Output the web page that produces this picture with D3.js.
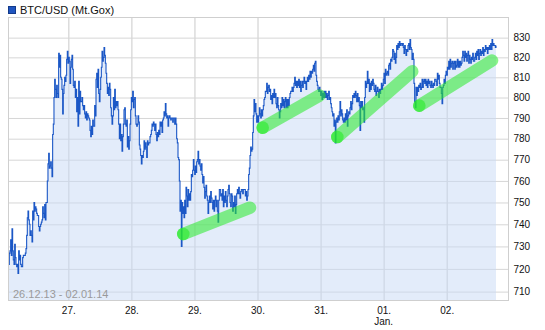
<!DOCTYPE html>
<html>
<head>
<meta charset="utf-8">
<script src="https://cdn.jsdelivr.net/npm/d3@7"></script>
<style>
  html, body { margin: 0; padding: 0; background: #fff; }
  svg text { font-family: "Liberation Sans", Arial, sans-serif; }
</style>
</head>
<body>
<svg id="chart" width="545" height="330"></svg>
<script>
// ---------------- data ----------------
const seriesName = "BTC/USD (Mt.Gox)";
const periodLabel = "26.12.13 - 02.01.14";
const stepMinutes = 15.22;
const segmentStarts = ["2013-12-26T01:18", "2013-12-27T07:30", "2013-12-28T14:42",
                       "2013-12-29T21:54", "2013-12-31T05:06", "2014-01-01T12:19"];
const prices1 = [722,727,728,733,726,738,728,724,722,731,725,722,721,722,718,728,724,726,722,721,
  721,725,726,726,726,727,729,735,743,746,742,740,735,737,735,732,746,742,750,746,
  748,747,745,744,744,739,737,739,740,741,742,748,745,743,749,742,750,750,760,768,
  773,766,767,769,766,762,782,787,800,809,804,800,806,802,800,822,815,821,810,809,
  804,792,802,806,810,808,811,819,823,817,820,818,807,815,819,821,814,806,805,808,
  800,804,793,800,786,808,792,803,798,798,800,796,794,796,792,790,793,789,792];
const prices2 = [791,790,789,784,781,786,782,789,786,786,796,791,809,812,805,814,802,798,804,810,
  815,823,818,820,825,821,817,812,807,802,805,801,807,804,795,791,787,791,800,794,
  804,795,798,796,798,794,787,780,787,779,782,774,781,787,794,795,787,786,789,776,
  781,775,779,787,794,800,798,803,795,799,800,791,787,786,787,791,788,777,775,772,
  768,772,771,774,779,775,778,776,771,779,777,778,778,781,782,784,787,786,788,787,
  784,787,782,779,783,781,784,782,788,786,788,783,789,790,793,791,797,792,790,791,
  786,790,791];
const prices3 = [790,789,790,790,788,790,790,787,790,787,780,778,771,770,760,746,751,730,750,745,
  748,743,751,745,757,753,748,756,751,754,751,755,763,762,765,770,765,763,767,764,
  769,770,774,768,770,767,765,768,763,759,762,757,752,755,758,753,751,745,750,753,
  750,755,752,750,747,751,746,751,753,748,751,746,741,751,756,756,753,754,751,756,
  748,753,750,755,751,748,753,756,758,754,750,748,754,753,746,750,748,753,745,749,
  754,756,754,757,754,752,755,756,756,754,756,756,756,753,755,751,753,756,763,766,
  772,776,774];
const prices4 = [775,783,791,799,793,797,792,788,791,788,791,795,792,790,794,791,794,796,799,800,
  803,803,807,802,805,806,803,804,799,801,797,802,800,804,800,802,797,795,800,796,
  794,790,793,797,795,800,796,799,795,798,800,795,799,795,799,796,800,802,803,803,
  805,803,805,807,810,806,808,805,808,806,809,805,808,803,806,808,805,808,810,807,
  808,804,808,810,808,811,809,813,810,813,812,814,816,813,817,818,811,808,806,804,
  803,805,803,801,803,799,802,800,803,800,803,800,802,799,801,803,799,800,797,795,
  793,791,792];
const prices5 = [786,789,778,788,790,788,791,789,793,798,791,794,792,789,788,790,788,792,789,794,
  786,791,793,792,795,798,794,797,801,800,802,800,803,801,798,802,798,800,796,784,
  798,795,798,794,795,788,800,808,805,807,813,807,809,803,807,804,808,806,809,807,
  804,803,806,801,803,805,803,800,804,802,804,807,804,806,809,812,807,814,811,812,
  813,811,816,817,814,819,818,820,824,823,819,822,817,820,826,824,827,825,828,826,
  827,827,826,827,825,822,826,824,821,824,823,826,827,824,829,825,824,819,822,819,
  807,798,795];
const prices6 = [805,801,805,803,806,805,807,804,805,809,805,808,809,807,809,806,808,805,809,807,
  808,806,805,808,806,805,807,806,809,809,808,806,812,809,811,807,805,805,802,797,
  805,806,809,807,811,813,811,815,814,818,814,819,815,817,818,814,817,818,814,818,
  815,816,819,815,818,815,818,816,817,820,823,821,818,823,820,822,818,821,823,817,
  821,819,817,820,819,822,818,818,820,822,819,823,821,824,819,822,824,821,823,822,
  825,821,824,823,826,824,825,822,825,824,826,824,827,824,829,826,827,826,826,825,826];

const yTicks = [710,720,730,740,750,760,770,780,790,800,810,820,830];
const xTickDates = ["2013-12-27","2013-12-28","2013-12-29","2013-12-30","2013-12-31","2014-01-01","2014-01-02"];
const monthLabel = "Jan.";

// highlighted trend bands
const bandStartTimes = ["2013-12-28T19:45","2013-12-30T01:58","2013-12-31T06:22","2014-01-01T13:34"];
const bandStartValues = [735.6, 785.3, 780.8, 796.0];
const bandEndTimes = ["2013-12-29T21:09","2013-12-30T23:35","2014-01-01T10:54","2014-01-02T17:14"];
const bandEndValues = [747.6, 801.0, 813.0, 818.4];

// ---------------- build ----------------
const parseT = d3.timeParse("%Y-%m-%dT%H:%M");
const parseD = d3.timeParse("%Y-%m-%d");
const segments = [prices1, prices2, prices3, prices4, prices5, prices6];
const data = [];
segments.forEach((vals, s) => {
  const t0 = parseT(segmentStarts[s]);
  vals.forEach((v, i) => data.push({ date: new Date(+t0 + i * stepMinutes * 60000), value: v }));
});

const frame = { left: 8, right: 509, top: 17, bottom: 301 };
const x = d3.scaleTime()
  .domain([parseD("2013-12-26"), parseD("2014-01-03")])
  .range([5.23, 509.79]);
const y = d3.scaleLog()
  .domain([706, 840.6])
  .range([300.8, 17]);

const svg = d3.select("#chart");
const gridColor = "#d6d6d6";

// clip
svg.append("clipPath").attr("id", "plotclip")
  .append("rect").attr("x", frame.left).attr("y", frame.top)
  .attr("width", frame.right - frame.left).attr("height", frame.bottom - frame.top);

// horizontal grid + right labels via axis
const yAxis = d3.axisRight(y).tickValues(yTicks).tickFormat(d3.format("d"))
  .tickSize(-(frame.right - frame.left)).tickPadding(5);
const gy = svg.append("g").attr("transform", `translate(${frame.right},0)`).call(yAxis);
gy.select(".domain").remove();
gy.selectAll(".tick line").attr("stroke", gridColor).attr("stroke-width", 1);
gy.selectAll(".tick text").attr("font-size", 10).attr("fill", "#111").attr("x", 4.5)
  .style("font-family", "'Liberation Sans', Arial, sans-serif");

// vertical grid + bottom labels via axis
const xDates = xTickDates.map(parseD);
const xAxis = d3.axisBottom(x).tickValues(xDates).tickFormat(d3.timeFormat("%d."))
  .tickSize(-(frame.bottom - frame.top)).tickPadding(4);
const gx = svg.append("g").attr("transform", `translate(0,${frame.bottom})`).call(xAxis);
gx.select(".domain").remove();
gx.selectAll(".tick line").attr("stroke", gridColor).attr("stroke-width", 1.3);
gx.selectAll(".tick text").attr("font-size", 10).attr("fill", "#111").attr("dy", "0.9em")
  .style("font-family", "'Liberation Sans', Arial, sans-serif");

svg.append("text").attr("x", x(parseD("2014-01-01"))).attr("y", 325)
  .attr("text-anchor", "middle").attr("font-size", 10).attr("fill", "#111").text(monthLabel);

// area + line
const plot = svg.append("g").attr("clip-path", "url(#plotclip)");
plot.append("path").datum(data)
  .attr("d", d3.area().curve(d3.curveStepAfter).x(d => x(d.date)).y0(y(706)).y1(d => y(d.value)))
  .attr("fill", "#c8d9f5").attr("fill-opacity", 0.5);
plot.append("path").datum(data)
  .attr("d", d3.line().curve(d3.curveStepAfter).x(d => x(d.date)).y(d => y(d.value)))
  .attr("fill", "none").attr("stroke", "#1b57c6").attr("stroke-width", 1.1);

// trend bands
const bands = bandStartTimes.map((t, i) => ({
  x1: x(parseT(t)), y1: y(bandStartValues[i]),
  x2: x(parseT(bandEndTimes[i])), y2: y(bandEndValues[i])
}));
const bandColor = "rgb(40,235,40)";
plot.selectAll("line.band").data(bands).join("line").attr("class", "band")
  .attr("x1", d => d.x1).attr("y1", d => d.y1).attr("x2", d => d.x2).attr("y2", d => d.y2)
  .attr("stroke", bandColor).attr("stroke-opacity", 0.55).attr("stroke-width", 12.5)
  .attr("stroke-linecap", "round");
plot.selectAll("circle.bandstart").data(bands).join("circle").attr("class", "bandstart")
  .attr("cx", d => d.x1).attr("cy", d => d.y1).attr("r", 6.3)
  .attr("fill", bandColor).attr("fill-opacity", 0.6);

// frame
svg.append("rect").attr("x", frame.left + 0.5).attr("y", frame.top + 0.5)
  .attr("width", frame.right - frame.left - 1).attr("height", frame.bottom - frame.top - 1)
  .attr("fill", "none").attr("stroke", "#cfcfcf").attr("stroke-width", 1);

// period label
svg.append("text").attr("x", 13).attr("y", 297.5).attr("font-size", 11)
  .attr("fill", "#9a9a9a").text(periodLabel);

// legend
svg.append("rect").attr("x", 8.5).attr("y", 6.5).attr("width", 7).attr("height", 7)
  .attr("fill", "#1f55c0").attr("stroke", "#133a8a").attr("stroke-width", 1);
svg.append("text").attr("x", 20).attr("y", 14).attr("font-size", 11)
  .attr("fill", "#111").text(seriesName);
</script>
</body>
</html>
